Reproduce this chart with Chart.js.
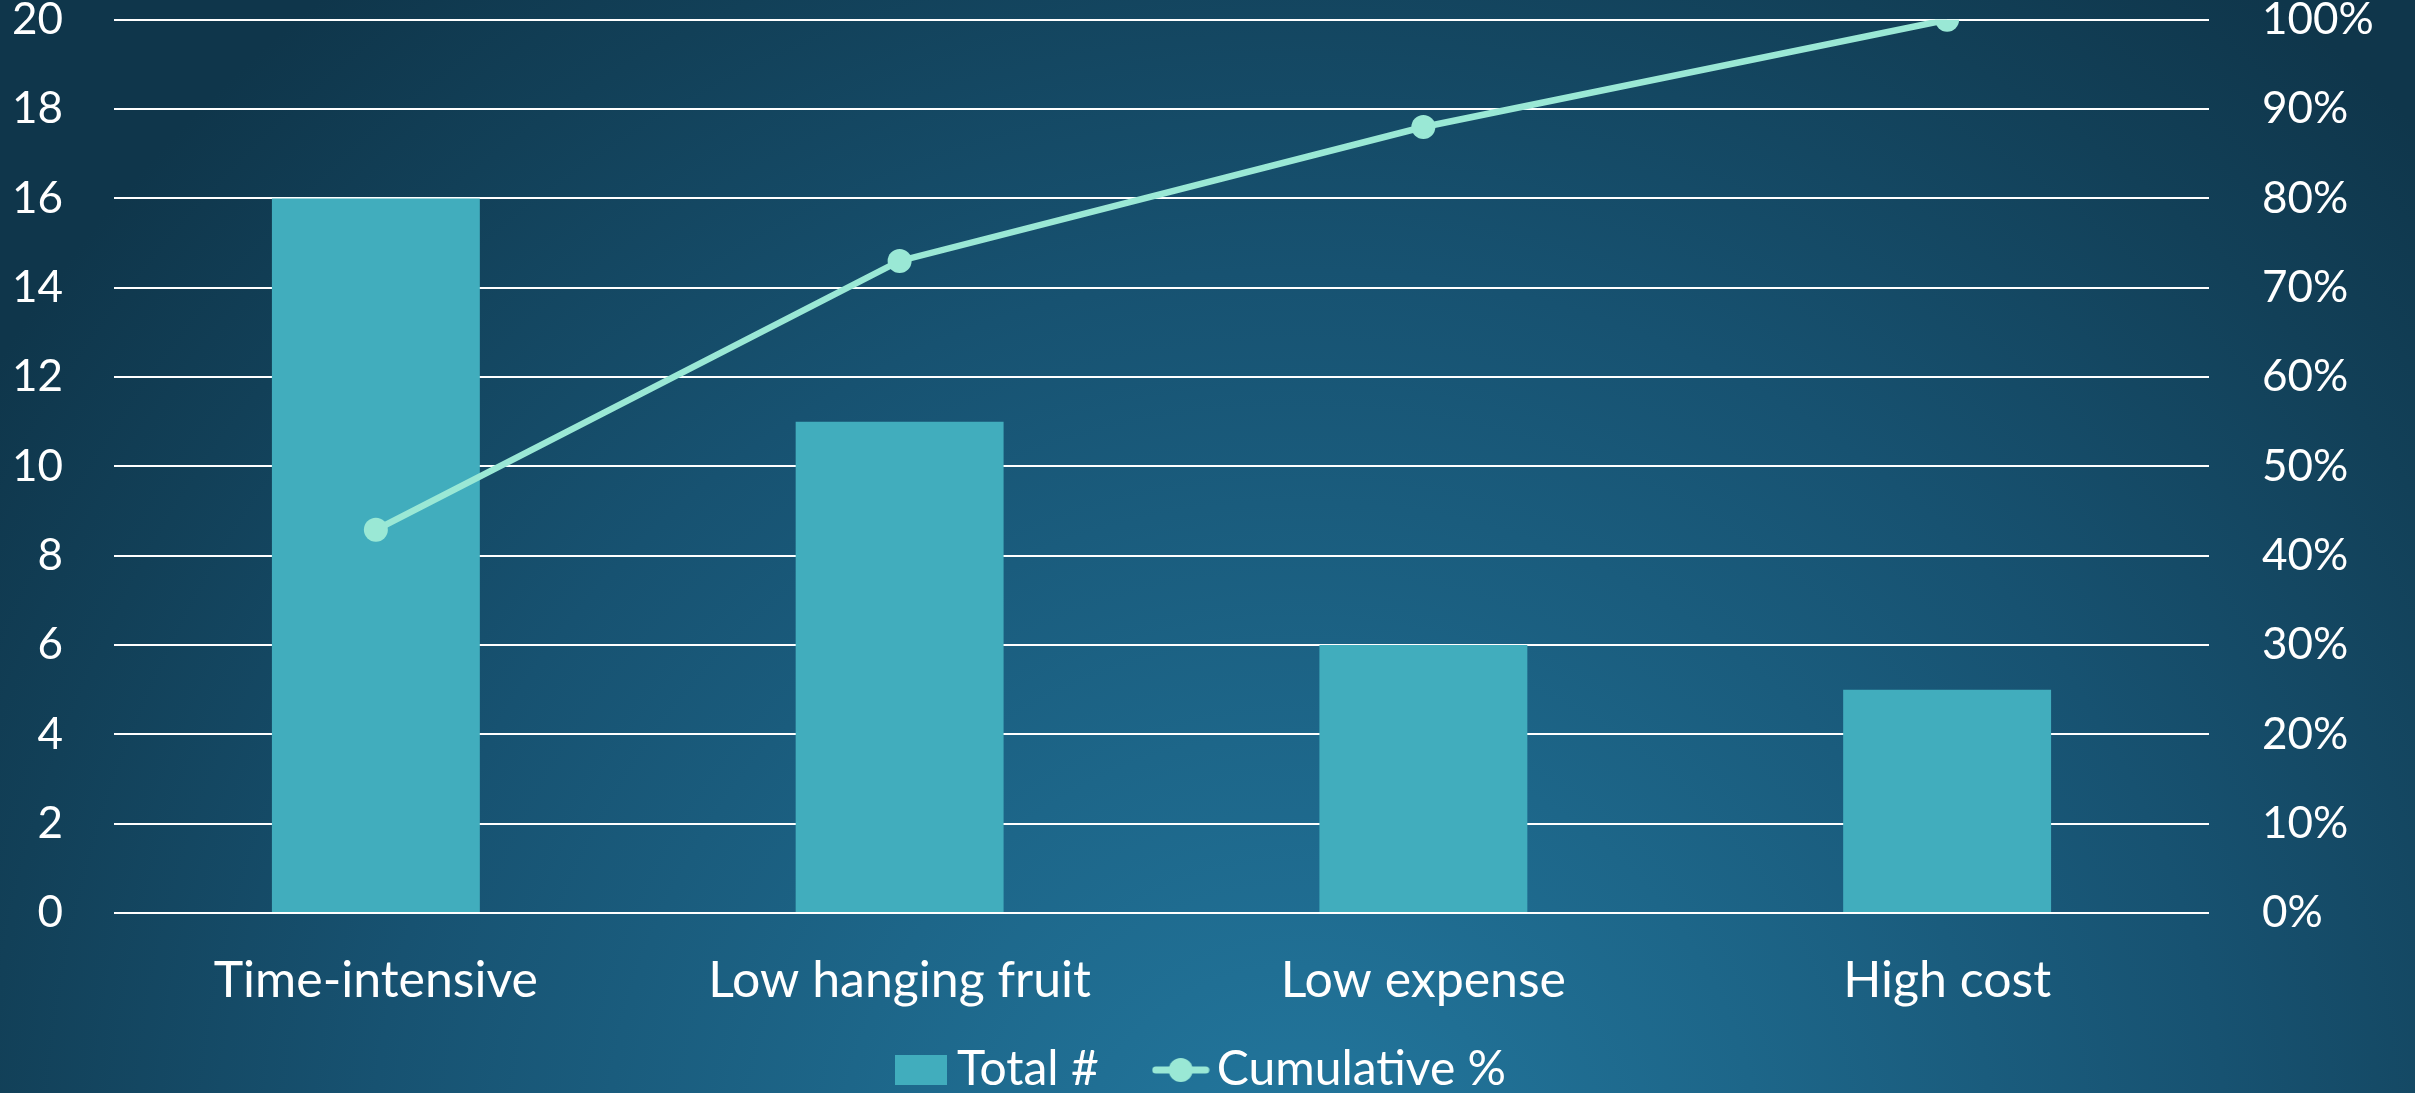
<!DOCTYPE html>
<html><head><meta charset="utf-8">
<script src="https://cdn.jsdelivr.net/npm/chart.js@4.4.1/dist/chart.umd.min.js"></script>
<style>html,body{margin:0;padding:0;overflow:hidden;background:#12405a}
#wrap{position:relative;width:2415px;height:1093px}</style></head>
<body><div id="wrap"><canvas id="c" width="2415" height="1093"></canvas></div>
<script>
const categories = ["Time-intensive", "Low hanging fruit", "Low expense", "High cost"];
const totalCounts = [16, 11, 6, 5];
const cumulativePct = [42.9, 73.0, 88.0, 100];
const seriesNames = ["Total #", "Cumulative %"];
const leftAxisMax = 20, leftAxisStep = 2;
const rightAxisMax = 100, rightAxisStep = 10;

const BAR = '#41adbd', LINE = '#9ae8d5', FONT = 'Lato';

function barSwatch(){ const c=document.createElement('canvas'); c.width=52; c.height=30; const x=c.getContext('2d'); x.fillStyle=BAR; x.fillRect(0,0,52,30); return c; }
function lineSwatch(){ const c=document.createElement('canvas'); c.width=58; c.height=26; const x=c.getContext('2d');
  x.strokeStyle=LINE; x.lineWidth=7; x.lineCap='round'; x.beginPath(); x.moveTo(4,13); x.lineTo(54,13); x.stroke();
  x.fillStyle=LINE; x.beginPath(); x.arc(29,13,12,0,Math.PI*2); x.fill(); return c; }
const swatches=[barSwatch(), lineSwatch()];

const bgPlugin = { id:'bg', beforeDraw(chart){ const {ctx,width,height}=chart; ctx.save();
  const g=ctx.createRadialGradient(1300,1200,0,1300,1200,1550);
  g.addColorStop(0,'#23789f'); g.addColorStop(0.3,'#1d6689'); g.addColorStop(0.6,'#175271'); g.addColorStop(0.85,'#124058'); g.addColorStop(1,'#0f364b');
  ctx.fillStyle=g; ctx.fillRect(0,0,width,height); ctx.restore(); } };

new Chart(document.getElementById('c'), {
  data: {
    labels: categories,
    datasets: [
      { type:'line', label: seriesNames[1], data: cumulativePct, yAxisID:'y1', borderColor: LINE, backgroundColor: LINE,
        borderWidth: 6.5, pointRadius: 12, pointHoverRadius: 12, pointBackgroundColor: LINE, pointBorderWidth: 0, tension: 0, order: 0 },
      { type:'bar', label: seriesNames[0], data: totalCounts, yAxisID:'y', backgroundColor: BAR,
        barPercentage: 0.397, categoryPercentage: 1, order: 1 }
    ]
  },
  options: {
    responsive:false, animation:false, devicePixelRatio:1,
    layout:{ padding:{ left:0, right:0, top:0, bottom:-11 } },
    plugins:{
      tooltip:{enabled:false},
      legend:{ position:'bottom',
        labels:{ usePointStyle:true, pointStyleWidth:24, padding:10, color:'#ffffff', font:{family:FONT, size:48},
          generateLabels(chart){ return [
            { text: seriesNames[0] + '\u2003\u2002', pointStyle: swatches[0], fillStyle: BAR, strokeStyle: BAR, lineWidth:0, fontColor:'#ffffff', datasetIndex:1, hidden:false },
            { text: seriesNames[1], pointStyle: swatches[1], fillStyle: LINE, strokeStyle: LINE, lineWidth:0, fontColor:'#ffffff', datasetIndex:0, hidden:false }
          ]; } } }
    },
    scales:{
      x:{ grid:{display:false, drawTicks:false}, border:{display:false},
        ticks:{ color:'#ffffff', font:{family:FONT, size:50}, padding:38, maxRotation:0 },
        afterFit(s){ s.height = 123; } },
      y:{ position:'left', min:0, max:leftAxisMax,
        grid:{ color:'#ffffff', lineWidth:2, drawTicks:true, tickLength:51, tickColor:'rgba(0,0,0,0)' }, border:{display:false},
        ticks:{ stepSize:leftAxisStep, color:'#ffffff', font:{family:FONT, size:44, lineHeight:0.9}, padding:0 },
        afterFit(s){ s.width = 114; } },
      y1:{ position:'right', min:0, max:rightAxisMax,
        grid:{ display:true, drawOnChartArea:false, drawTicks:true, tickLength:53, tickColor:'rgba(0,0,0,0)' }, border:{display:false},
        ticks:{ stepSize:rightAxisStep, color:'#ffffff', font:{family:FONT, size:44, lineHeight:0.9}, padding:0, callback:v=>v+'%' },
        afterFit(s){ s.width = 206; } }
    }
  },
  plugins:[bgPlugin]
});
</script></body></html>
